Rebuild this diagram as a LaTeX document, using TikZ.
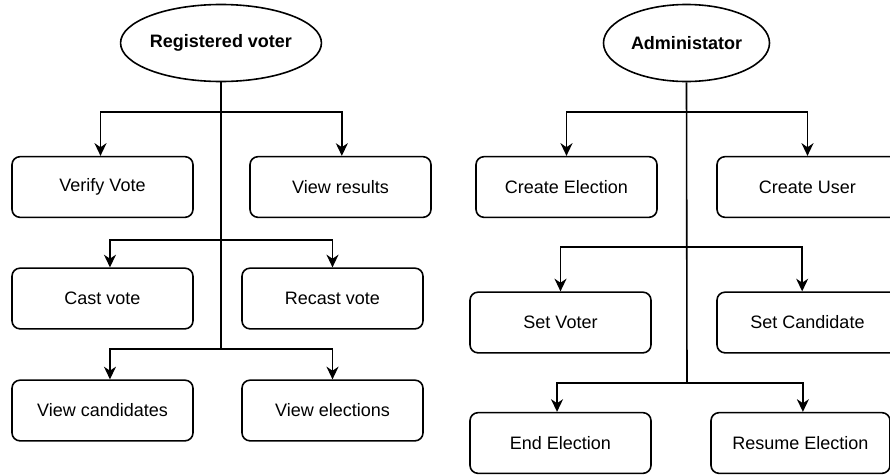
\documentclass[tikz,border=0pt]{standalone}
\usepackage{fontspec}
\setmainfont{Liberation Sans}
\usetikzlibrary{arrows.meta,shapes.geometric,calc}

\begin{document}
\begin{tikzpicture}[x=0.75pt,y=-0.75pt,
  font=\fontsize{13.5}{16}\selectfont,
  line width=1.2pt,
  actor/.style={draw,ellipse,minimum width=124.5pt,minimum height=57.75pt,
                inner sep=0pt,font=\fontsize{13.5}{16}\selectfont\bfseries},
  task/.style={draw,rounded corners=6pt,minimum width=135.75pt,
               minimum height=45.5pt,inner sep=0pt},
  arr/.style={-{Stealth[length=9.5pt,width=9pt,inset=3pt]}},
]
% canvas
\useasboundingbox[fill=white] (0,0) rectangle (890,475);

% ---------------- Registered voter ----------------
\node[actor] (rv) at (221,43) {Registered voter};

\node[task] (verify)  at (102.5,187)   {Verify Vote};
\node[task] (results) at (340.5,187)   {View results};
\node[task] (cast)    at (102.5,298.5) {Cast vote};
\node[task] (recast)  at (332.5,298.5) {Recast vote};
\node[task] (cands)   at (102.5,410.5) {View candidates};
\node[task] (elecs)   at (332.5,410.5) {View elections};

\coordinate (rvA) at (221,112);
\coordinate (rvB) at (221,240);
\coordinate (rvC) at (221,349);

\draw (rv.south) -- (rvC);
\draw[arr] (rvA) -| ([xshift=-1.5pt]verify.north);
\draw[arr] (rvA) -| ([xshift=1pt]results.north);
\draw[arr] (rvB) -| ([xshift=5.6pt]cast.north);
\draw[arr] (rvB) -| (recast.north);
\draw[arr] (rvC) -| ([xshift=5.6pt]cands.north);
\draw[arr] (rvC) -| (elecs.north);

% ---------------- Administator ----------------
\node[actor] (ad) at (686.5,43) {Administator};

\node[task] (celec)  at (566.5,187)   {Create Election};
\node[task] (cuser)  at (807.5,187)   {Create User};
\node[task] (svoter) at (560.5,322.5) {Set Voter};
\node[task] (scand)  at (807.5,322.5) {Set Candidate};
\node[task] (eelec)  at (560.5,443)   {End Election};
\node[task,minimum width=134.25pt] (relec) at (800.5,443) {Resume Election};

\coordinate (adA) at (687,112);
\coordinate (adB) at (687,247);
\coordinate (adC) at (687,383);

\draw (ad.south) -- (adC);
\draw[arr] (adA) -| (celec.north);
\draw[arr] (adA) -| (cuser.north);
\draw[arr] (adB) -| (svoter.north);
\draw[arr] (adB) -| ([xshift=-4pt]scand.north);
\draw[arr] (adC) -| ([xshift=-2.6pt]eelec.north);
\draw[arr] (adC) -| ([xshift=1.8pt]relec.north);
\end{tikzpicture}
\end{document}
